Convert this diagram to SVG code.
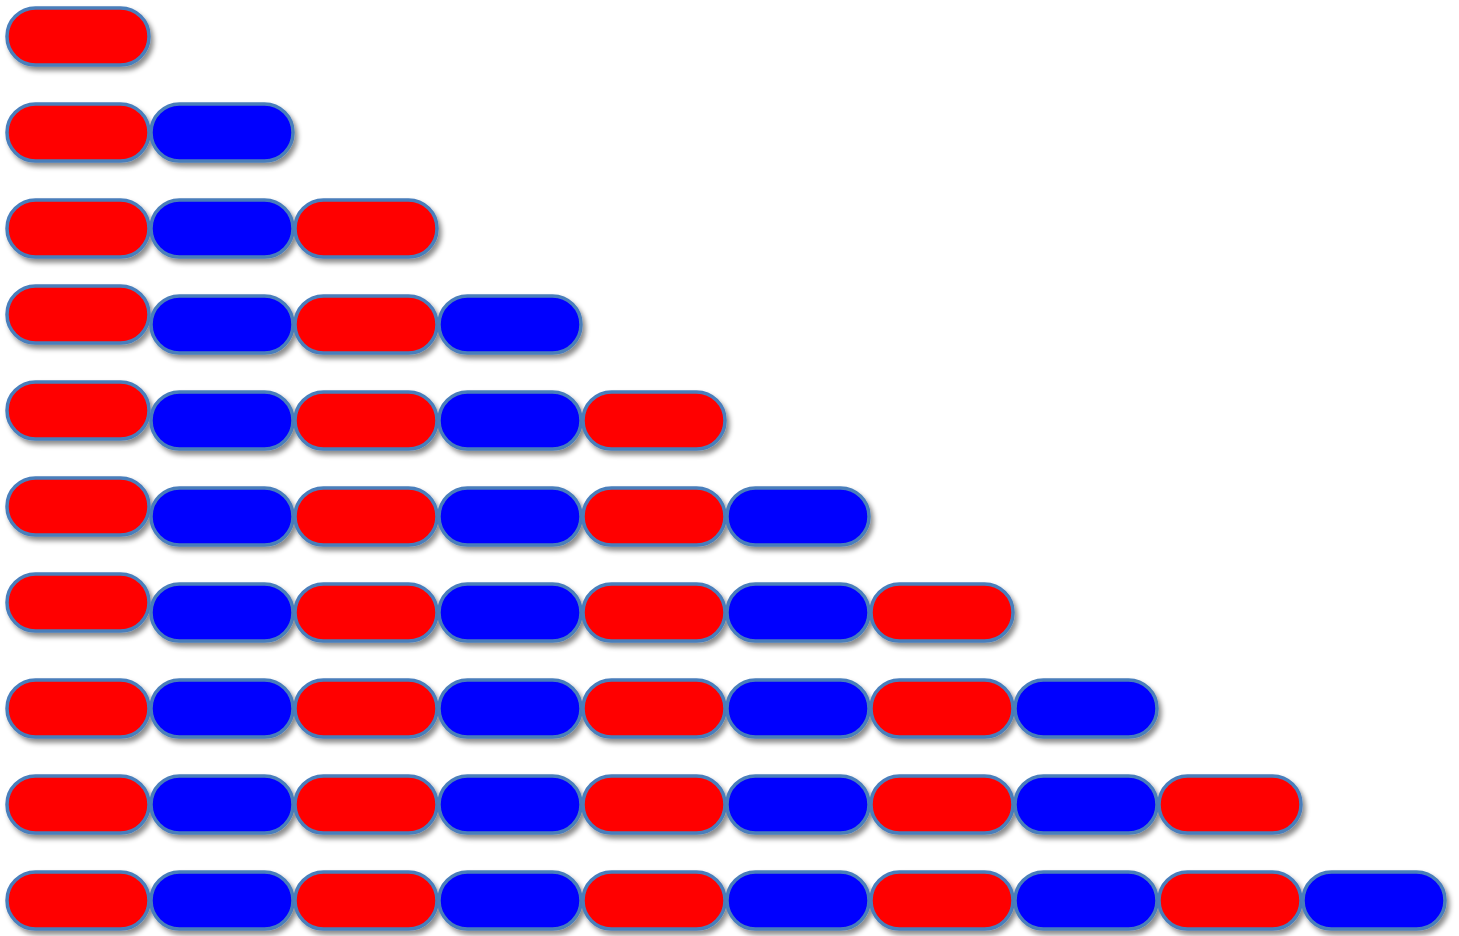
<svg xmlns="http://www.w3.org/2000/svg" width="1459" height="936" viewBox="0 0 1459 936">
<defs>
<filter id="sh" x="-10%" y="-20%" width="130%" height="160%">
<feDropShadow dx="3" dy="4" stdDeviation="2.5" flood-color="#000" flood-opacity="0.45"/>
</filter>
<rect id="p" width="142" height="57" rx="28.5" ry="28.5"/>
</defs>
<style>
.r{fill:#ff0000;stroke:#4a7ebb;stroke-width:3.5;filter:url(#sh)}
.b{fill:#0000ff;stroke:#4a7ebb;stroke-width:3.5;filter:url(#sh)}
</style>
<rect width="1459" height="936" fill="#fff"/>
<g id="row1"><use id="n1_1" href="#p" class="r" x="7" y="8"/></g>
<g id="row2"><use id="n2_1" href="#p" class="r" x="7" y="104"/><use id="n2_2" href="#p" class="b" x="151" y="104"/></g>
<g id="row3"><use id="n3_1" href="#p" class="r" x="7" y="200"/><use id="n3_2" href="#p" class="b" x="151" y="200"/><use id="n3_3" href="#p" class="r" x="295" y="200"/></g>
<g id="row4"><use id="n4_1" href="#p" class="r" x="7" y="286"/><use id="n4_2" href="#p" class="b" x="151" y="296"/><use id="n4_3" href="#p" class="r" x="295" y="296"/><use id="n4_4" href="#p" class="b" x="439" y="296"/></g>
<g id="row5"><use id="n5_1" href="#p" class="r" x="7" y="382"/><use id="n5_2" href="#p" class="b" x="151" y="392"/><use id="n5_3" href="#p" class="r" x="295" y="392"/><use id="n5_4" href="#p" class="b" x="439" y="392"/><use id="n5_5" href="#p" class="r" x="583" y="392"/></g>
<g id="row6"><use id="n6_1" href="#p" class="r" x="7" y="478"/><use id="n6_2" href="#p" class="b" x="151" y="488"/><use id="n6_3" href="#p" class="r" x="295" y="488"/><use id="n6_4" href="#p" class="b" x="439" y="488"/><use id="n6_5" href="#p" class="r" x="583" y="488"/><use id="n6_6" href="#p" class="b" x="727" y="488"/></g>
<g id="row7"><use id="n7_1" href="#p" class="r" x="7" y="574"/><use id="n7_2" href="#p" class="b" x="151" y="584"/><use id="n7_3" href="#p" class="r" x="295" y="584"/><use id="n7_4" href="#p" class="b" x="439" y="584"/><use id="n7_5" href="#p" class="r" x="583" y="584"/><use id="n7_6" href="#p" class="b" x="727" y="584"/><use id="n7_7" href="#p" class="r" x="871" y="584"/></g>
<g id="row8"><use id="n8_1" href="#p" class="r" x="7" y="680"/><use id="n8_2" href="#p" class="b" x="151" y="680"/><use id="n8_3" href="#p" class="r" x="295" y="680"/><use id="n8_4" href="#p" class="b" x="439" y="680"/><use id="n8_5" href="#p" class="r" x="583" y="680"/><use id="n8_6" href="#p" class="b" x="727" y="680"/><use id="n8_7" href="#p" class="r" x="871" y="680"/><use id="n8_8" href="#p" class="b" x="1015" y="680"/></g>
<g id="row9"><use id="n9_1" href="#p" class="r" x="7" y="776"/><use id="n9_2" href="#p" class="b" x="151" y="776"/><use id="n9_3" href="#p" class="r" x="295" y="776"/><use id="n9_4" href="#p" class="b" x="439" y="776"/><use id="n9_5" href="#p" class="r" x="583" y="776"/><use id="n9_6" href="#p" class="b" x="727" y="776"/><use id="n9_7" href="#p" class="r" x="871" y="776"/><use id="n9_8" href="#p" class="b" x="1015" y="776"/><use id="n9_9" href="#p" class="r" x="1159" y="776"/></g>
<g id="row10"><use id="n10_1" href="#p" class="r" x="7" y="872"/><use id="n10_2" href="#p" class="b" x="151" y="872"/><use id="n10_3" href="#p" class="r" x="295" y="872"/><use id="n10_4" href="#p" class="b" x="439" y="872"/><use id="n10_5" href="#p" class="r" x="583" y="872"/><use id="n10_6" href="#p" class="b" x="727" y="872"/><use id="n10_7" href="#p" class="r" x="871" y="872"/><use id="n10_8" href="#p" class="b" x="1015" y="872"/><use id="n10_9" href="#p" class="r" x="1159" y="872"/><use id="n10_10" href="#p" class="b" x="1303" y="872"/></g>
<g id="connectors"></g>
</svg>
